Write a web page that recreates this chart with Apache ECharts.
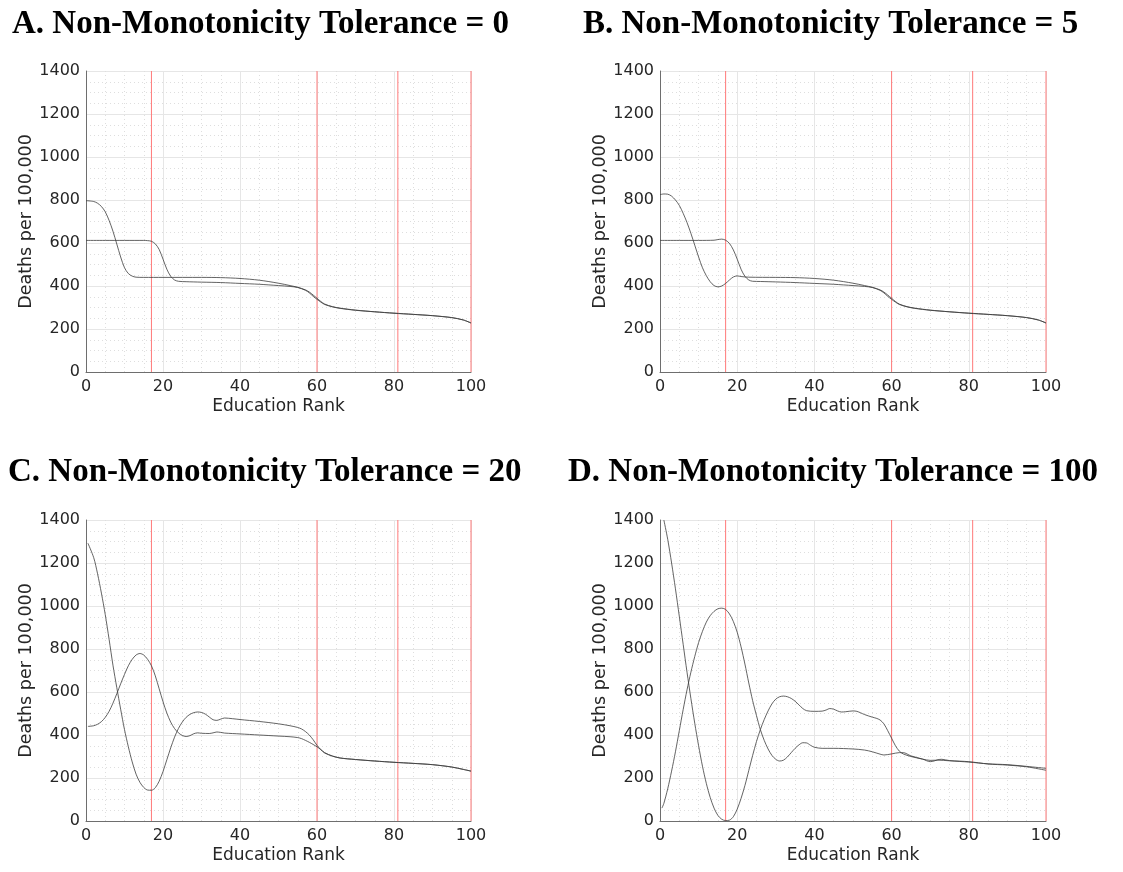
<!DOCTYPE html>
<html>
<head>
<meta charset="utf-8">
<script src="https://cdn.jsdelivr.net/npm/echarts@6/dist/echarts.min.js"></script>
<style>
  html, body { margin: 0; padding: 0; background: #fff; }
  #chart { width: 1123px; height: 872px; }
</style>
</head>
<body>
<div id="chart"></div>
<script>
// panel titles
const titles = [
  'A. Non-Monotonicity Tolerance = 0',
  'B. Non-Monotonicity Tolerance = 5',
  'C. Non-Monotonicity Tolerance = 20',
  'D. Non-Monotonicity Tolerance = 100'
]
// red reference lines (education rank)
const redLines = [17, 60, 81, 100]
const xTicks = [0, 20, 40, 60, 80, 100]
const yTicks = [0, 200, 400, 600, 800, 1000, 1200, 1400]

// A. tolerance 0
const a1 = [[0,797],[2,793],[3,785],[4,770],[5,745],[6,705],[7,655],[8,595],[9,535],[10,485],[11,458],[12,446],[13,441],[15,440],[20,440],[30,440],[35,439],[40,435],[45,427],[50,413],[53,402],[55,394],[57,382],[58,372],[59,358],[60,343],[61,328],[62,316],[64,304],[66,297],[70,288],[75,280],[80,274],[85,268],[90,262],[95,253],[98,242],[100,228]]
const a2 = [[0,612],[5,612],[10,612],[15,612],[16,611],[17,608],[18,596],[19,570],[20,525],[21,478],[22,445],[23,428],[24,422],[26,420],[30,418],[35,416],[40,412],[45,408],[50,402],[53,398],[55,393],[57,380],[58,368],[59,352],[60,338],[61,325],[62,314],[64,303],[66,296],[70,287],[75,280],[80,273],[85,268],[90,262],[95,253],[98,242],[100,228]]

// B. tolerance 5
const b1 = [[0,825],[1,828],[2,827],[3,818],[4,800],[5,775],[6,738],[7,695],[8,645],[9,590],[10,535],[11,485],[12,448],[13,420],[14,402],[15,396],[16,400],[17,412],[18,428],[19,442],[20,447],[21,444],[23,441],[30,440],[35,439],[40,435],[45,427],[50,413],[53,402],[55,394],[57,382],[58,372],[59,358],[60,343],[61,328],[62,316],[64,304],[66,297],[70,288],[75,280],[80,274],[85,268],[90,262],[95,253],[98,242],[100,228]]
const b2 = [[0,612],[5,612],[10,612],[14,613],[15,616],[16,618],[17,613],[18,598],[19,568],[20,525],[21,478],[22,445],[23,428],[24,422],[26,421],[30,419],[35,416],[40,412],[45,408],[50,402],[53,398],[55,393],[57,380],[58,368],[59,352],[60,338],[61,325],[62,314],[64,303],[66,296],[70,287],[75,280],[80,273],[85,268],[90,262],[95,253],[98,242],[100,228]]

// C. tolerance 20
const c1 = [[0.5,1292],[2,1225],[3,1150],[4,1060],[5,960],[6,845],[7,725],[8,620],[9,520],[10,425],[11,345],[12,275],[13,218],[14,180],[15,156],[16,144],[17,143],[18,155],[19,185],[20,230],[21,285],[22,340],[23,390],[24,430],[25,460],[26,482],[27,496],[28,504],[29,507],[30,505],[31,497],[32,484],[33,471],[34,468],[35,474],[36,479],[38,476],[40,472],[45,463],[50,452],[53,443],[55,435],[56,428],[57,416],[58,400],[59,378],[60,352],[61,332],[62,316],[64,302],[66,293],[70,286],[75,279],[80,273],[85,268],[90,262],[95,251],[98,240],[100,232]]
const c2 = [[0.5,440],[2,443],[3,450],[4,462],[5,482],[6,510],[7,548],[8,592],[9,638],[10,682],[11,722],[12,752],[13,772],[14,779],[15,772],[16,752],[17,722],[18,675],[19,615],[20,555],[21,502],[22,460],[23,430],[24,410],[25,398],[26,393],[27,397],[28,406],[29,410],[30,408],[32,407],[33,410],[34,414],[35,412],[36,409],[40,405],[45,400],[50,395],[53,392],[55,388],[56,383],[57,375],[58,366],[59,356],[60,345],[61,332],[62,318],[64,302],[66,293],[70,286],[75,279],[80,273],[85,268],[90,262],[95,251],[98,240],[100,232]]

// D. tolerance 100
const d1 = [[1,1400],[2,1310],[3,1200],[4,1080],[5,952],[6,822],[7,692],[8,570],[9,455],[10,350],[11,255],[12,175],[13,110],[14,60],[15,26],[16,8],[17,2],[18,4],[19,20],[20,55],[21,105],[22,165],[23,235],[24,305],[25,370],[26,425],[27,472],[28,512],[29,545],[30,567],[31,578],[32,581],[33,578],[34,570],[35,557],[36,540],[37,523],[38,513],[40,510],[42,511],[43,516],[44,523],[45,520],[46,512],[47,507],[48,508],[50,512],[51,510],[52,503],[53,495],[55,483],[56,478],[57,470],[58,452],[59,420],[60,385],[61,350],[62,325],[63,312],[65,300],[68,288],[70,282],[72,283],[75,280],[80,274],[85,266],[90,262],[95,254],[100,245]]
const d2 = [[0.5,60],[1,82],[2,150],[3,232],[4,322],[5,420],[6,518],[7,610],[8,692],[9,765],[10,830],[11,882],[12,925],[13,955],[14,975],[15,987],[16,990],[17,984],[18,963],[19,928],[20,878],[21,810],[22,730],[23,642],[24,560],[25,490],[26,425],[27,375],[28,335],[29,305],[30,287],[31,279],[32,283],[33,298],[34,318],[35,338],[36,354],[37,364],[38,363],[39,352],[40,343],[42,338],[45,338],[50,335],[53,330],[55,322],[57,311],[58,307],[60,312],[62,318],[63,318],[65,303],[68,288],[70,276],[71,279],[72,285],[73,287],[75,281],[80,276],[85,265],[90,260],[95,252],[100,236]]

const panelData = [[a1, a2], [b1, b2], [c1, c2], [d1, d2]]

// plot boxes in px
const boxes = [
  { left: 86, top: 71, width: 385, height: 301 },
  { left: 660, top: 71, width: 386, height: 301 },
  { left: 86, top: 520, width: 385, height: 301 },
  { left: 660, top: 520, width: 386, height: 301 }
]
const titlePos = [
  { left: 7, top: 3 },
  { left: 578, top: 3 },
  { left: 3, top: 451 },
  { left: 563, top: 451 }
]

const labelFont = { fontFamily: 'DejaVu Sans', fontSize: 16, color: '#262626' }

const myChart = echarts.init(document.getElementById('chart'), null, { renderer: 'canvas' })

const option = {
  animation: false,
  backgroundColor: '#fff',
  title: titles.map((t, i) => ({
    text: t,
    left: titlePos[i].left,
    top: titlePos[i].top,
    textStyle: {
      fontFamily: 'Liberation Serif',
      fontWeight: 'bold',
      fontSize: 33,
      color: '#000'
    }
  })),
  grid: boxes.map(b => ({ ...b })),
  xAxis: boxes.map((b, i) => ({
    gridIndex: i,
    type: 'value',
    min: xTicks[0],
    max: xTicks[xTicks.length - 1],
    interval: 20,
    name: 'Education Rank',
    nameLocation: 'middle',
    nameGap: 26,
    nameTextStyle: { ...labelFont, fontSize: 17 },
    axisLine: { show: true, lineStyle: { color: '#6e6e6e', width: 1 } },
    axisTick: { show: false },
    minorTick: { show: false, splitNumber: 4 },
    axisLabel: { ...labelFont, margin: 7, formatter: v => String(v) },
    splitLine: { show: true, lineStyle: { color: '#e6e6e6', width: 1 } },
    minorSplitLine: { show: true, lineStyle: { color: '#dedede', width: 1, type: [1, 3] } }
  })),
  yAxis: boxes.map((b, i) => ({
    gridIndex: i,
    type: 'value',
    min: yTicks[0],
    max: yTicks[yTicks.length - 1],
    interval: 200,
    name: 'Deaths per 100,000',
    nameLocation: 'middle',
    nameGap: 47,
    nameTextStyle: { ...labelFont, fontSize: 17.5 },
    axisLine: { show: true, lineStyle: { color: '#6e6e6e', width: 1 } },
    axisTick: { show: false },
    minorTick: { show: false, splitNumber: 4 },
    axisLabel: { ...labelFont, margin: 6, formatter: v => String(v) },
    splitLine: { show: true, lineStyle: { color: '#e6e6e6', width: 1 } },
    minorSplitLine: { show: true, lineStyle: { color: '#dedede', width: 1, type: [1, 3] } }
  })),
  series: []
}

panelData.forEach((pair, i) => {
  // red vertical reference lines, one small series each
  redLines.forEach(v => {
    option.series.push({
      type: 'line',
      xAxisIndex: i,
      yAxisIndex: i,
      data: [[v, yTicks[0]], [v, yTicks[yTicks.length - 1]]],
      showSymbol: false,
      silent: true,
      clip: false,
      lineStyle: { color: '#ff7a7a', width: 1 },
      z: 2
    })
  })
  pair.forEach(data => {
    option.series.push({
      type: 'line',
      xAxisIndex: i,
      yAxisIndex: i,
      data: data,
      showSymbol: false,
      smooth: 0.3,
      clip: true,
      lineStyle: { color: '#3c3c3c', width: 0.8 },
      z: 3
    })
  })
})

myChart.setOption(option)
</script>
</body>
</html>
